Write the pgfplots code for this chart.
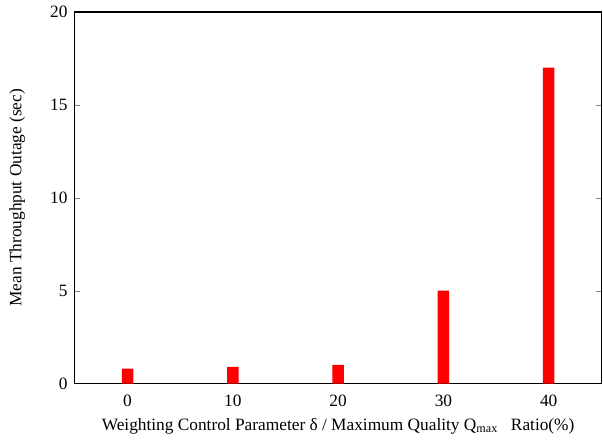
\documentclass[border=0pt]{standalone}
\usepackage{pgfplots}
\pgfplotsset{compat=1.18}
\usepackage{fontspec}
\setmainfont{Liberation Serif}
\begin{document}
\fontsize{13pt}{15pt}\selectfont
\begin{tikzpicture}
\useasboundingbox (-56.25pt,-42pt) rectangle (396.5pt,288pt);
\begin{axis}[
  name=ax,
  at={(0,0)}, anchor=south west,
  scale only axis,
  width=395.25pt, height=279pt,
  xmin=-5, xmax=45, ymin=0, ymax=20,
  xtick={0,10,20,30,40},
  ytick={0,5,10,15,20},
  major x tick style={draw=none},
  ytick pos=both,
  tick align=inside,
  major tick length=4pt,
  /pgf/number format/assume math mode=true,
  tick label style={font=\fontsize{13pt}{15pt}\selectfont},
  label style={font=\fontsize{13pt}{15pt}\selectfont},
  xticklabel style={yshift=-4pt},
  yticklabel style={xshift=-1pt},
  xlabel={Weighting Control Parameter δ / Maximum Quality Q\textsubscript{max}\ \ \ Ratio(\%)},
  ylabel={Mean Throughput Outage (sec)},
  xlabel style={yshift=0pt},
  ylabel style={yshift=10pt},
  axis line style={black, line width=0.8pt},
]
\addplot[ybar, bar width=1.1, fill=red, draw=none] coordinates {
  (0,0.8) (10,0.9) (20,1.0) (30,5.0) (40,17.0)
};
\end{axis}
\end{tikzpicture}
\end{document}
